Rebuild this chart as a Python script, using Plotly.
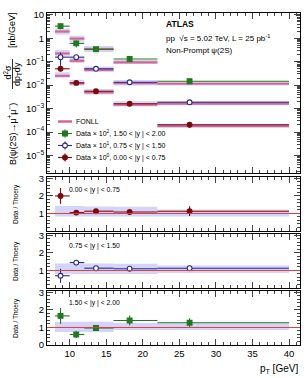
import plotly.graph_objects as go

# ---------------- data ----------------
pt_lo = [8, 10, 12, 16, 22]
pt_hi = [10, 12, 16, 22, 40]
pt_mean = [8.75, 10.9, 13.6, 18.2, 26.4]

# cross sections as displayed (already scaled by 10^2, 10^1, 10^0)
green_data = [3.3, 0.61, 0.34, 0.13, 0.0147]      # 1.50<|y|<2.00 x100
blue_data = [0.157, 0.157, 0.050, 0.0133, 0.00185]  # 0.75<|y|<1.50 x10
red_data = [0.050, 0.0125, 0.0055, 0.0016, 0.000204]  # 0.00<|y|<0.75 x1

green_fonll = [1.95, 0.97, 0.35, 0.094, 0.0115]
blue_fonll = [0.225, 0.11, 0.045, 0.0121, 0.00163]
red_fonll = [0.025, 0.0119, 0.0049, 0.00148, 0.00018]

# data / theory ratios and their errors
red_ratio = [2.0, 1.05, 1.13, 1.08, 1.13]
red_ratio_err = [0.45, 0.12, 0.10, 0.10, 0.28]
blue_ratio = [0.7, 1.45, 1.13, 1.10, 1.13]
blue_ratio_err = [0.40, 0.15, 0.08, 0.08, 0.15]
green_ratio = [1.66, 0.6, 0.97, 1.40, 1.27]
green_ratio_err = [0.45, 0.20, 0.15, 0.28, 0.25]

# relative theory (FONLL) uncertainties
red_th_up = [0.42, 0.42, 0.40, 0.38, 0.22]
red_th_dn = [0.18, 0.18, 0.18, 0.18, 0.17]
blue_th_up = [0.40, 0.40, 0.40, 0.38, 0.28]
blue_th_dn = [0.20, 0.20, 0.20, 0.20, 0.14]
green_th_up = [0.33, 0.33, 0.33, 0.25, 0.24]
green_th_dn = [0.26, 0.26, 0.26, 0.15, 0.15]

main_tickvals = [10, 1, 0.1, 0.01, 0.001, 1e-4, 1e-5]
main_ticktext = ["10", "1", "10<sup>\u22121</sup>", "10<sup>\u22122</sup>",
                 "10<sup>\u22123</sup>", "10<sup>\u22124</sup>", "10<sup>\u22125</sup>"]

# ---------------- style ----------------
W, H = 307, 378
ML, MR, MT, MB = 47, 7, 13, 33
PW, PH = W - ML - MR, H - MT - MB
FONT = "Liberation Sans"
C_GREEN = "#1d7a1d"
C_BLUE = "#2b2b8c"
C_RED = "#7a0a0a"
C_PINK = "#d8658f"
C_BAND = "rgba(170,170,245,0.5)"
C_LINE1 = "#d94040"
MS = 4.8
EW = 1.1


def px(x):
    return (x - ML) / PW


def py(y):
    return (H - MB - y) / PH


def dom(top, bottom):
    return [py(bottom), py(top)]


fig = go.Figure()


def band_poly(lo, hi, ylo, yhi):
    xs, ys = [], []
    for a, b, c, d in zip(lo, hi, ylo, yhi):
        xs += [a, b, b, a, a, None]
        ys += [c, c, d, d, c, None]
    return xs, ys


def seg(lo, hi, yv):
    xs, ys = [], []
    for a, b, c in zip(lo, hi, yv):
        xs += [a, b, None]
        ys += [c, c, None]
    return xs, ys


series = [
    (green_data, green_fonll, green_th_up, green_th_dn, C_GREEN, "square", C_GREEN),
    (blue_data, blue_fonll, blue_th_up, blue_th_dn, C_BLUE, "circle", "white"),
    (red_data, red_fonll, red_th_up, red_th_dn, C_RED, "circle", C_RED),
]
ratios = [
    (red_ratio, red_ratio_err, red_th_up, red_th_dn, C_RED, "circle", C_RED, "2"),
    (blue_ratio, blue_ratio_err, blue_th_up, blue_th_dn, C_BLUE, "circle", "white", "3"),
    (green_ratio, green_ratio_err, green_th_up, green_th_dn, C_GREEN, "square", C_GREEN, "4"),
]

# main panel: bands
for d, f, up, dn, col, sym, fill in series:
    xs, ys = band_poly(pt_lo, pt_hi, [v * (1 - e) for v, e in zip(f, dn)],
                       [v * (1 + e) for v, e in zip(f, up)])
    fig.add_trace(go.Scatter(x=xs, y=ys, mode="lines", fill="toself", fillcolor=C_BAND,
                             line=dict(width=0), hoverinfo="skip", showlegend=False,
                             xaxis="x", yaxis="y"))
for d, f, up, dn, col, sym, fill in series:
    xs, ys = seg(pt_lo, pt_hi, f)
    fig.add_trace(go.Scatter(x=xs, y=ys, mode="lines", line=dict(color=C_PINK, width=2.2),
                             showlegend=False, xaxis="x", yaxis="y"))
# main panel: data
ratio_of = {C_GREEN: (green_ratio, green_ratio_err), C_BLUE: (blue_ratio, blue_ratio_err),
            C_RED: (red_ratio, red_ratio_err)}
for d, f, up, dn, col, sym, fill in series:
    r, re = ratio_of[col]
    erel = [e / v for e, v in zip(re, r)]
    fig.add_trace(go.Scatter(
        x=pt_mean, y=d, mode="markers", showlegend=False, xaxis="x", yaxis="y",
        marker=dict(symbol=sym, size=MS, color=fill, line=dict(color=col, width=1.1)),
        error_x=dict(type="data", symmetric=False,
                     array=[h - m for h, m in zip(pt_hi, pt_mean)],
                     arrayminus=[m - l for m, l in zip(pt_mean, pt_lo)],
                     color=col, thickness=EW, width=0),
        error_y=dict(type="data", array=[v * e for v, e in zip(d, erel)],
                     color=col, thickness=EW, width=0)))

# ratio panels
for r, re, up, dn, col, sym, fill, ax in ratios:
    xs, ys = band_poly(pt_lo, pt_hi, [1 - e for e in dn], [1 + e for e in up])
    fig.add_trace(go.Scatter(x=xs, y=ys, mode="lines", fill="toself", fillcolor=C_BAND,
                             line=dict(width=0), hoverinfo="skip", showlegend=False,
                             xaxis="x" + ax, yaxis="y" + ax))
    fig.add_trace(go.Scatter(
        x=pt_mean, y=r, mode="markers", showlegend=False, xaxis="x" + ax, yaxis="y" + ax,
        marker=dict(symbol=sym, size=MS, color=fill, line=dict(color=col, width=1.1)),
        error_x=dict(type="data", symmetric=False,
                     array=[h - m for h, m in zip(pt_hi, pt_mean)],
                     arrayminus=[m - l for m, l in zip(pt_mean, pt_lo)],
                     color=col, thickness=EW, width=0),
        error_y=dict(type="data", array=re, color=col, thickness=EW, width=0)))

# ---------------- axes ----------------
XR = [6.9, 41.5]
tickfont = dict(family=FONT, size=9.5, color="black")


def xax(anchor, labels):
    return dict(range=XR, anchor=anchor, domain=[0, 1], showline=True, linecolor="black",
                linewidth=1, mirror="allticks", ticks="inside", ticklen=6, tickwidth=1,
                tick0=0, dtick=5, showticklabels=labels, tickfont=tickfont,
                showgrid=False, zeroline=False,
                minor=dict(ticks="inside", ticklen=3, dtick=1, tick0=0, showgrid=False))


def yrat(anchor, domain, vals):
    return dict(range=[0, 3.08], anchor=anchor, domain=domain, showline=True,
                linecolor="black", linewidth=1, mirror="allticks", ticks="inside",
                ticklen=6, tickwidth=1, tickvals=vals, tickfont=tickfont, showgrid=False,
                zeroline=False,
                minor=dict(ticks="inside", ticklen=3, dtick=0.2, tick0=0, showgrid=False))


fig.update_layout(
    width=W, height=H, margin=dict(l=ML, r=MR, t=MT, b=MB),
    paper_bgcolor="white", plot_bgcolor="white", showlegend=False,
    font=dict(family=FONT, color="black"),
    xaxis=xax("y", False),
    xaxis2=dict(xax("y2", False), matches="x"),
    xaxis3=dict(xax("y3", False), matches="x"),
    xaxis4=dict(xax("y4", True), matches="x"),
    yaxis=dict(type="log", range=[-5.75, 1.08], anchor="x", domain=dom(13, 173),
               showline=True, linecolor="black", linewidth=1, mirror="allticks",
               ticks="inside", ticklen=6, tickwidth=1, tickvals=main_tickvals,
               ticktext=main_ticktext, tickfont=tickfont, showgrid=False, zeroline=False,
               minor=dict(ticks="inside", ticklen=3, dtick="D1", showgrid=False)),
    yaxis2=yrat("x2", dom(177, 231), [1, 2, 3]),
    yaxis3=yrat("x3", dom(234, 288), [1, 2, 3]),
    yaxis4=yrat("x4", dom(291, 345), [0, 1, 2, 3]),
)

shapes = []
for ax in ["2", "3", "4"]:
    shapes.append(dict(type="line", xref="paper", x0=0, x1=1, yref="y" + ax, y0=1, y1=1,
                       line=dict(color=C_LINE1, width=1), layer="above"))

ann = []


def text(x, y, s, size, xanchor="left", angle=0, yanchor="middle"):
    ann.append(dict(x=px(x), y=py(y), xref="paper", yref="paper", text=s, showarrow=False,
                    xanchor=xanchor, yanchor=yanchor, textangle=angle,
                    font=dict(family=FONT, size=size, color="black")))


# ATLAS label
text(164, 24, "<b>ATLAS</b>", 8.5)
text(164, 37.5, "pp  \u221as = 5.02 TeV, L = 25 pb<sup>-1</sup>", 8)
text(164, 50, "Non-Prompt \u03c8(2S)", 8)

# main y title
text(12, 30, "[nb/GeV]", 9, xanchor="center", angle=-90)
text(7.5, 72, "d<sup>2</sup>\u03c3", 9, xanchor="center", angle=-90)
text(18, 74, "dp<sub>T</sub>dy", 9, xanchor="center", angle=-90)
shapes.append(dict(type="line", xref="paper", yref="paper", x0=px(12.5), x1=px(12.5),
                   y0=py(89), y1=py(59), line=dict(color="black", width=0.8)))
text(12, 134, "B(\u03c8(2S)\u2192\u03bc<sup>+</sup>\u03bc<sup>\u2212</sup>)", 9,
     xanchor="center", angle=-90)

# ratio titles and rapidity labels
for yc in [204, 261, 318]:
    text(16, yc, "Data / Thoery", 6.5, xanchor="center", angle=-90)
text(67, 190, "0.00 &lt; |y | &lt; 0.75", 6.8)
text(67, 246, "0.75 &lt; |y | &lt; 1.50", 6.8)
text(67, 303, "1.50 &lt; |y | &lt; 2.00", 6.8)

# x title
ann.append(dict(x=1.0, y=py(369), xref="paper", yref="paper", showarrow=False,
                text="p<sub>T</sub> [GeV]", xanchor="right", yanchor="middle",
                font=dict(family=FONT, size=10, color="black")))

# legend (manual)
LX0, LX1, LXC, LTX = 58, 72, 65, 74
rows = [121.5, 133.5, 145.5, 157.5]
shapes.append(dict(type="line", xref="paper", yref="paper", x0=px(LX0), x1=px(LX1),
                   y0=py(rows[0]), y1=py(rows[0]), line=dict(color=C_PINK, width=2.5)))
text(LTX, rows[0], "FONLL", 7)
leg = [(C_GREEN, "rect", C_GREEN, "Data \u00d7 10<sup>2</sup>, 1.50 &lt; |y | &lt; 2.00"),
       (C_BLUE, "circle", "white", "Data \u00d7 10<sup>1</sup>, 0.75 &lt; |y | &lt; 1.50"),
       (C_RED, "circle", C_RED, "Data \u00d7 10<sup>0</sup>, 0.00 &lt; |y | &lt; 0.75")]
for (col, typ, fill, lab), yr in zip(leg, rows[1:]):
    shapes.append(dict(type="line", xref="paper", yref="paper", x0=px(LX0), x1=px(LX1),
                       y0=py(yr), y1=py(yr), line=dict(color=col, width=1.1)))
    shapes.append(dict(type="line", xref="paper", yref="paper", x0=px(LXC), x1=px(LXC),
                       y0=py(yr - 4), y1=py(yr + 4), line=dict(color=col, width=1.1)))
    shapes.append(dict(type=typ, xref="paper", yref="paper", xsizemode="pixel",
                       ysizemode="pixel", xanchor=px(LXC), yanchor=py(yr),
                       x0=-2.4, x1=2.4, y0=-2.4, y1=2.4, fillcolor=fill,
                       line=dict(color=col, width=1.1)))
    text(LTX, yr, lab, 7)

fig.update_layout(shapes=shapes, annotations=ann)
fig.write_html("out.html")
